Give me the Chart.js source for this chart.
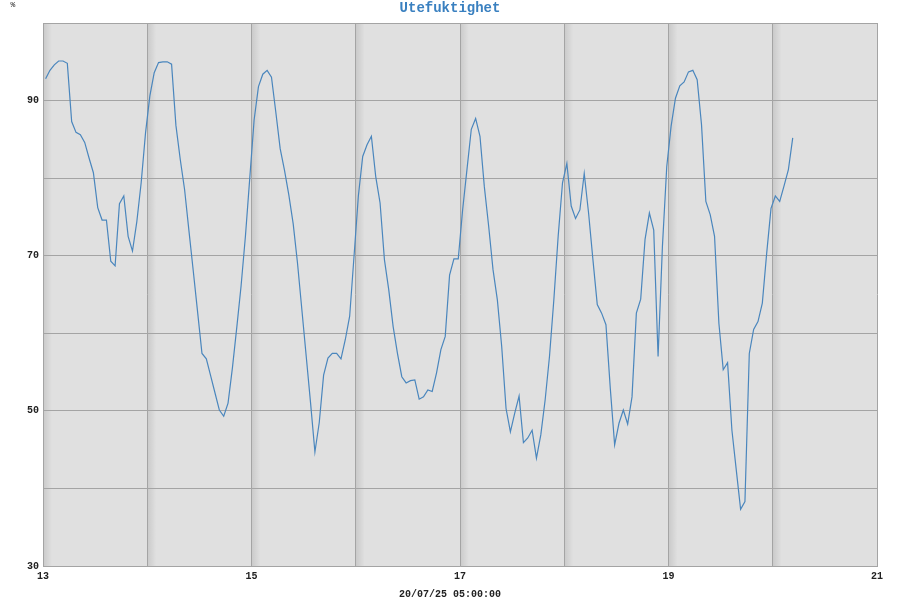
<!DOCTYPE html>
<html>
<head>
<meta charset="utf-8">
<script src="https://cdn.jsdelivr.net/npm/chart.js@4/dist/chart.umd.min.js"></script>
<style>
  html, body { margin: 0; padding: 0; background: #fff; }
</style>
</head>
<body>
<canvas id="fukt" width="900" height="600"></canvas>
<script>
// hourly readings, first one a little after midnight on the 13th
const firstReading = 13 + 0.6 / 24;
const humidity = [
  92.8, 93.9, 94.6, 95.1, 95.1, 94.8, 87.3, 85.9, 85.6, 84.6, 82.6, 80.7,
  76.2, 74.6, 74.6, 69.3, 68.7, 76.7, 77.7, 72.5, 70.6, 74.4, 79.4, 85.8,
  90.6, 93.6, 94.9, 95.0, 95.0, 94.7, 86.8, 82.4, 78.5, 73.2, 68.0, 62.7,
  57.4, 56.7, 54.5, 52.3, 50.1, 49.3, 51.0, 55.5, 60.7, 66.1, 72.5, 80.0,
  87.5, 91.8, 93.4, 93.9, 93.0, 88.5, 83.8, 81.0, 77.8, 74.1, 69.0, 63.0,
  57.0, 51.0, 44.7, 48.5, 54.6, 56.8, 57.4, 57.4, 56.7, 59.2, 62.2, 69.9,
  77.7, 82.8, 84.3, 85.4, 80.2, 76.8, 69.5, 65.6, 60.9, 57.4, 54.4, 53.6,
  53.9, 54.0, 51.5, 51.8, 52.7, 52.5, 54.9, 57.9, 59.6, 67.5, 69.6, 69.6,
  75.9, 81.1, 86.3, 87.7, 85.4, 78.9, 73.8, 68.2, 64.3, 58.3, 50.3, 47.3,
  49.7, 51.9, 45.9, 46.5, 47.5, 43.9, 46.9, 51.4, 57.0, 64.3, 72.5, 79.4,
  81.9, 76.4, 74.8, 75.9, 80.6, 75.5, 69.5, 63.7, 62.6, 61.1, 52.9, 45.6,
  48.4, 50.1, 48.3, 51.8, 62.6, 64.4, 72.1, 75.5, 73.3, 57.0, 71.2, 81.5,
  86.7, 90.3, 91.9, 92.4, 93.7, 93.9, 92.7, 86.9, 77.0, 75.3, 72.5, 61.3,
  55.3, 56.2, 47.5, 42.4, 37.3, 38.3, 57.4, 60.5, 61.5, 63.9, 70.3, 76.1,
  77.7, 77.0, 79.0, 81.1, 85.2
];
const dayLabels = [13, 15, 17, 19, 21];
const humidityLabels = [30, 50, 70, 90];

const titleText = 'Utefuktighet';
const unitText = '%';
const stampText = '20/07/25 05:00:00';

const mono = "'Liberation Mono', 'DejaVu Sans Mono', monospace";

const points = humidity.map(function (v, i) {
  return { x: firstReading + i / 24, y: v };
});

// grey plot area with a soft shadow to the right of each midnight line
const plotBackground = {
  id: 'plotBackground',
  beforeDraw(chart) {
    const ctx = chart.ctx;
    const a = chart.chartArea;
    const x = chart.scales.x;
    ctx.save();
    ctx.fillStyle = '#e0e0e0';
    ctx.fillRect(a.left, a.top, a.right - a.left, a.bottom - a.top);
    for (let d = x.min; d < x.max; d++) {
      const px = x.getPixelForValue(d);
      const g = ctx.createLinearGradient(px, 0, px + 9, 0);
      g.addColorStop(0, 'rgba(0,0,0,0.10)');
      g.addColorStop(1, 'rgba(0,0,0,0)');
      ctx.fillStyle = g;
      ctx.fillRect(px, a.top, 9, a.bottom - a.top);
    }
    ctx.restore();
  },
  afterDraw(chart) {
    const ctx = chart.ctx;
    ctx.save();
    ctx.textAlign = 'center';
    ctx.textBaseline = 'middle';
    ctx.fillStyle = '#3a80c0';
    ctx.font = 'bold 14px ' + mono;
    ctx.fillText(titleText, chart.width / 2, 8);
    ctx.fillStyle = '#222';
    ctx.font = 'bold 10px ' + mono;
    ctx.fillText(stampText, chart.width / 2, 594);
    ctx.font = '8px ' + mono;
    ctx.fillText(unitText, 13, 5);
    ctx.restore();
  }
};

new Chart(document.getElementById('fukt'), {
  type: 'line',
  data: {
    datasets: [
      {
        data: points,
        borderColor: '#4a86bd',
        borderWidth: 1.2,
        pointRadius: 0,
        tension: 0,
        fill: false,
      },
    ],
  },
  options: {
    responsive: false,
    animation: false,
    layout: { padding: { top: 23, right: 23, bottom: 0, left: 0 } },
    plugins: {
      legend: { display: false },
      tooltip: { enabled: false },
    },
    scales: {
      x: {
        type: 'linear',
        min: 13,
        max: 21,
        afterFit: function (scale) { scale.height = 34; },
        grid: { color: '#a4a4a4', lineWidth: 1, drawTicks: false },
        border: { color: '#a4a4a4' },
        ticks: {
          stepSize: 1,
          padding: 4,
          maxRotation: 0,
          autoSkip: false,
          color: '#222',
          font: { family: mono, size: 10, weight: 'bold' },
          callback: function (v) { return dayLabels.includes(v) ? String(v) : ''; },
        },
      },
      y: {
        min: 30,
        max: 100,
        afterFit: function (scale) { scale.width = 43; },
        grid: { color: '#a4a4a4', lineWidth: 1, drawTicks: false },
        border: { color: '#a4a4a4' },
        ticks: {
          stepSize: 10,
          padding: 4,
          color: '#222',
          font: { family: mono, size: 10, weight: 'bold' },
          callback: function (v) { return humidityLabels.includes(v) ? String(v) : ''; },
        },
      },
    },
  },
  plugins: [plotBackground],
});
</script>
</body>
</html>
